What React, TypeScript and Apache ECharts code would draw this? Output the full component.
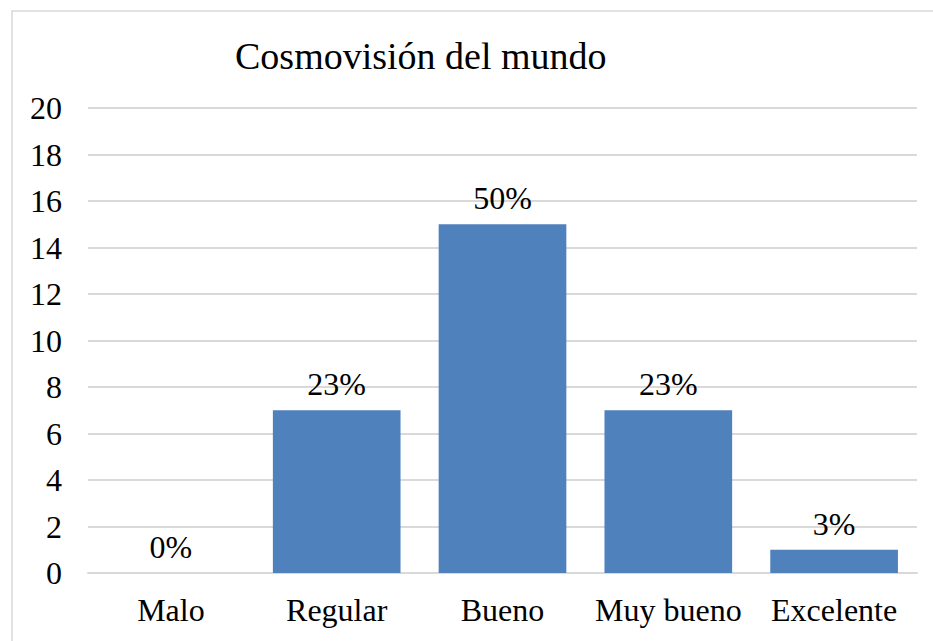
import React, { useEffect, useRef } from "react";
import * as echarts from "echarts";

const categories = ["Malo", "Regular", "Bueno", "Muy bueno", "Excelente"];
const values = [0, 7, 15, 7, 1];
const percentLabels = ["0%", "23%", "50%", "23%", "3%"];
const titleText = "Cosmovisión del mundo";

const FONT = "Liberation Serif";

export default function App() {
  const ref = useRef<HTMLDivElement>(null);
  useEffect(() => {
    document.body.style.margin = "0";
    const chart = echarts.init(ref.current!, null, { renderer: "svg" });
    chart.setOption({
      animation: false,
      backgroundColor: "#ffffff",
      textStyle: { fontFamily: FONT },
      title: {
        text: titleText,
        left: 230,
        top: 32,
        textStyle: { fontFamily: FONT, fontSize: 38, fontWeight: "normal", color: "#000" },
      },
      graphic: [
        {
          type: "rect",
          shape: { x: 12, y: 11, width: 940, height: 660 },
          style: { fill: "none", stroke: "#d9d9d9", lineWidth: 1.5 },
          silent: true,
        },
      ],
      grid: { left: 88, right: 16, top: 108, bottom: 68, containLabel: false },
      xAxis: {
        type: "category",
        data: categories,
        axisLine: { show: true, lineStyle: { color: "#d9d9d9", width: 2 } },
        axisTick: { show: false },
        axisLabel: { fontFamily: FONT, fontSize: 32, color: "#000", margin: 21, interval: 0 },
      },
      yAxis: {
        type: "value",
        min: 0,
        max: 20,
        interval: 2,
        axisLine: { show: false },
        axisTick: { show: false },
        axisLabel: { fontFamily: FONT, fontSize: 32, color: "#000", margin: 26 },
        splitLine: { lineStyle: { color: "#d9d9d9", width: 2 } },
      },
      series: [
        {
          type: "bar",
          data: values,
          barCategoryGap: "23%",
          itemStyle: { color: "#4f81bd" },
          label: {
            show: true,
            position: "top",
            distance: 10,
            fontFamily: FONT,
            fontSize: 32,
            color: "#000",
            formatter: (p: any) => percentLabels[p.dataIndex],
          },
        },
      ],
    });
    return () => chart.dispose();
  }, []);
  return <div ref={ref} style={{ width: 933, height: 641 }} />;
}
